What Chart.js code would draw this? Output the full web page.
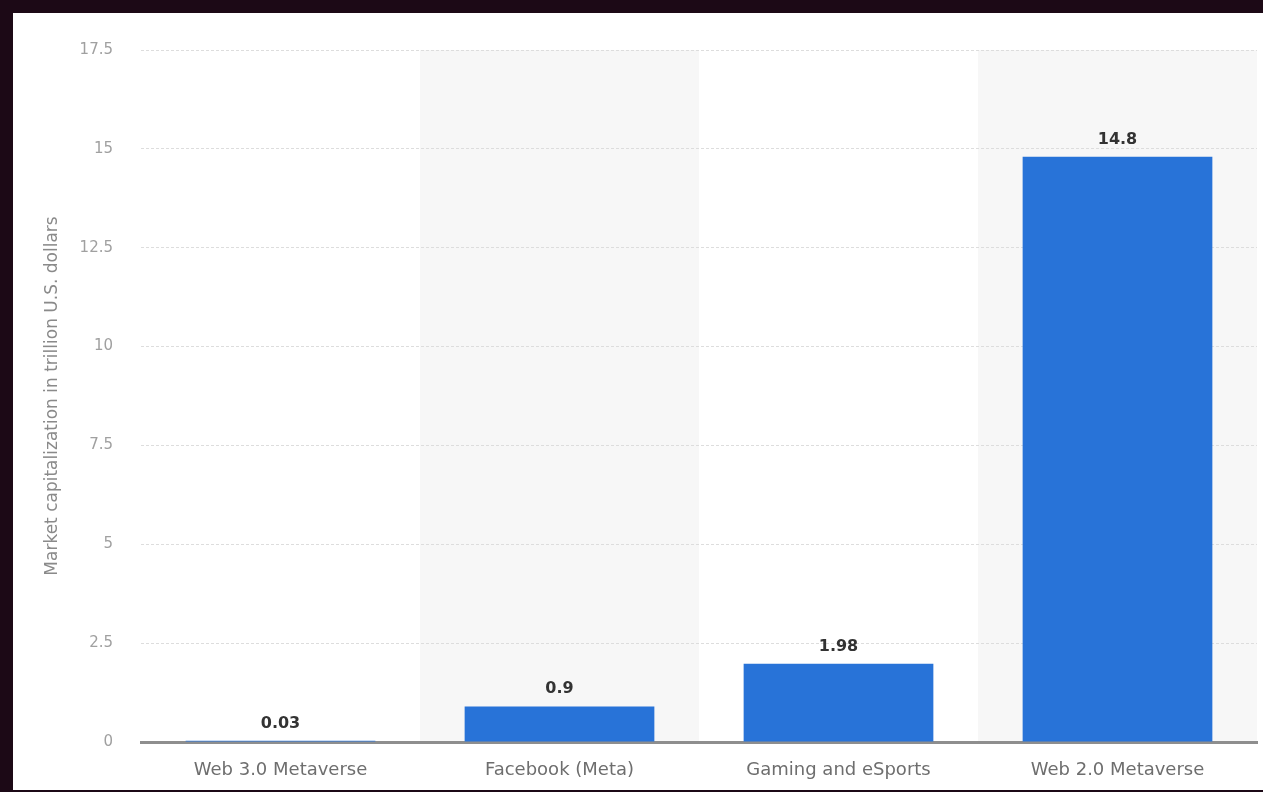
<!DOCTYPE html>
<html>
<head>
<meta charset="utf-8">
<title>Metaverse market capitalization</title>
<script src="https://cdn.jsdelivr.net/npm/chart.js@4"></script>
<style>
    html, body { margin: 0; padding: 0; background: #1c0916; overflow: hidden; }
    #kutu {
        position: absolute;
        left: 13px;
        top: 13px;
        width: 1250px;
        height: 777px;
        background: #ffffff;
    }
</style>
</head>
<body>
<div id="kutu"><canvas id="piyasaGrafik"></canvas></div>
<script>
// Chart data
const kategoriler = ['Web 3.0 Metaverse', 'Facebook (Meta)', 'Gaming and eSports', 'Web 2.0 Metaverse'];
const degerler = [0.03, 0.9, 1.98, 14.8];
const yEtiketleri = ['0', '2.5', '5', '7.5', '10', '12.5', '15', '17.5'];
const yBaslik = 'Market capitalization in trillion U.S. dollars';

document.addEventListener('DOMContentLoaded', () => {
    const ctx = document.getElementById('piyasaGrafik')?.getContext('2d');
    if (!ctx) {
        console.error('piyasaGrafik not found!');
        return;
    }

    // gray background behind every second category
    const seritler = {
        id: 'seritler',
        beforeDraw(chart) {
            const { ctx, chartArea, scales } = chart;
            const genislik = scales.x.width / kategoriler.length;
            ctx.save();
            ctx.fillStyle = '#f7f7f7';
            kategoriler.forEach((_, i) => {
                if (i % 2 === 1) {
                    const x = scales.x.getPixelForValue(i) - genislik / 2;
                    ctx.fillRect(x, chartArea.top, genislik, chartArea.bottom - chartArea.top);
                }
            });
            ctx.restore();
        },
    };

    // value labels above the bars
    const degerEtiketleri = {
        id: 'degerEtiketleri',
        afterDatasetsDraw(chart) {
            const { ctx } = chart;
            const meta = chart.getDatasetMeta(0);
            ctx.save();
            ctx.font = 'bold 16px "DejaVu Sans"';
            ctx.fillStyle = '#333333';
            ctx.textAlign = 'center';
            ctx.textBaseline = 'alphabetic';
            meta.data.forEach((bar, i) => {
                ctx.fillText(String(degerler[i]), bar.x, bar.y - 13);
            });
            ctx.restore();
        },
    };

    new Chart(ctx, {
        type: 'bar',
        data: {
            labels: kategoriler,
            datasets: [{
                label: yBaslik,
                data: degerler,
                backgroundColor: '#2873d8',
                borderWidth: 0,
                categoryPercentage: 1,
                barPercentage: 0.68,
            }],
        },
        options: {
            responsive: true,
            maintainAspectRatio: false,
            animation: false,
            layout: {
                padding: { left: 25, top: 34, right: 6, bottom: 0 },
            },
            plugins: {
                legend: { display: false },
                tooltip: { enabled: false },
            },
            scales: {
                x: {
                    grid: { display: false },
                    border: { color: '#8e8e8e', width: 3 },
                    ticks: {
                        color: '#6e6e6e',
                        font: { family: '"DejaVu Sans"', size: 18 },
                        padding: 10,
                    },
                    afterFit: scale => { scale.height = 48; },
                },
                y: {
                    min: 0,
                    max: 17.5,
                    grid: {
                        color: '#dddddd',
                        drawTicks: false,
                    },
                    border: { display: false, dash: [3, 2] },
                    ticks: {
                        stepSize: 2.5,
                        color: '#a0a0a0',
                        font: { family: '"DejaVu Sans"', size: 15 },
                        padding: 28,
                        callback: (value, index) => yEtiketleri[index],
                    },
                    title: {
                        display: true,
                        text: yBaslik,
                        color: '#8a8a8a',
                        font: { family: '"DejaVu Sans"', size: 17 },
                    },
                    afterFit: scale => { scale.width = 103; },
                },
            },
        },
        plugins: [seritler, degerEtiketleri],
    });
});
</script>
</body>
</html>
